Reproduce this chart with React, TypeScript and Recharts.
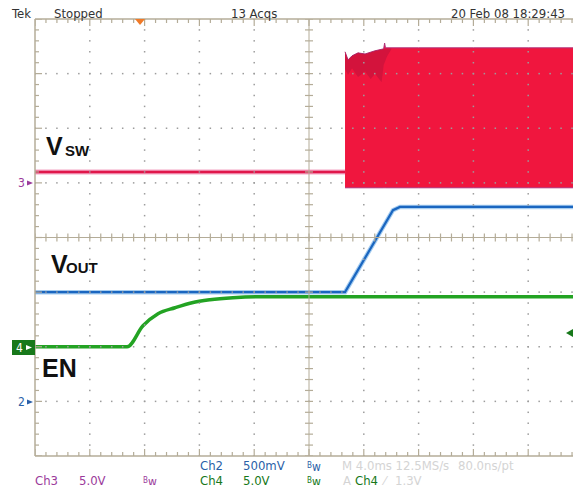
import React from "react";
import { ComposedChart, Line, Area, Scatter, XAxis, YAxis, ReferenceLine } from "recharts";

// scope channel settings (volts per division, ground position in divisions)
const CH3 = { vdiv: 5, pos: 1.0 };
const CH2 = { vdiv: 0.5, pos: -3.0 };
const CH4 = { vdiv: 5, pos: -2.0 };

// Ch3 - VSW (time in ms, volts)
const vswIdleTime = [-20, 2.63];
const vswIdleVolts = [1.0, 1.0];
const vswBandTime = [2.63, 2.85, 3.14, 3.58, 4.09, 4.82, 5.45, 5.52, 5.58, 8, 12, 16, 20];
const vswBandHigh = [12.0, 11.26, 11.63, 11.9, 11.8, 12.09, 12.27, 12.8, 12.36, 12.36, 12.36, 12.36, 12.36];
const vswBandLow = [-0.45, -0.45, -0.45, -0.45, -0.45, -0.45, -0.45, -0.45, -0.45, -0.45, -0.45, -0.45, -0.45];
const vswDarkTime = [2.63, 2.85, 3.14, 3.58, 4.09, 4.5, 4.82, 5.3, 5.45, 5.7, 6.0];
const vswDarkHigh = [12.0, 11.26, 11.63, 11.9, 11.8, 11.95, 12.09, 12.2, 12.27, 12.3, 12.3];
const vswDarkLow = [10.4, 9.9, 10.5, 9.7, 10.2, 9.5, 10.0, 9.2, 10.8, 11.6, 12.2];

// Ch2 - VOUT
const voutTime = [-20, 2.63, 6.13, 6.64, 20];
const voutVolts = [1.0, 1.0, 1.75, 1.78, 1.78];

// Ch4 - EN
const enTime = [-20, -13.28, -12.12, -11.02, -9.78, -8.54, -7.23, -5.55, -3.58, 20];
const enVolts = [0, 0, 1.92, 3.02, 3.57, 4.03, 4.3, 4.49, 4.58, 4.58];

const toDiv = (v: number, ch: { vdiv: number; pos: number }) => v / ch.vdiv + ch.pos;

const vswIdle = vswIdleTime.map((t, i) => ({ t, y: toDiv(vswIdleVolts[i], CH3) }));
const vswBand = vswBandTime.map((t, i) => ({
  t,
  lo: toDiv(vswBandLow[i], CH3),
  hi: toDiv(vswBandHigh[i], CH3),
}));
const vswDark = vswDarkTime.map((t, i) => ({
  t,
  lo: toDiv(vswDarkLow[i], CH3),
  hi: toDiv(vswDarkHigh[i], CH3),
}));
const vout = voutTime.map((t, i) => ({ t, y: toDiv(voutVolts[i], CH2) }));
const en = enTime.map((t, i) => ({ t, y: toDiv(enVolts[i], CH4) }));

// graticule: 10 x 8 divisions, 5 minor steps per division
const majorX = [-16, -12, -8, -4, 4, 8, 12, 16];
const majorY = [-3, -2, -1, 1, 2, 3];
const stepsX = Array.from({ length: 51 }, (_, i) => -20 + i * 0.8);
const stepsY = Array.from({ length: 41 }, (_, i) => -4 + i * 0.2);
const onMajor = (v: number, step: number) => Math.abs(v / step - Math.round(v / step)) < 1e-6;

const gridDots = [
  ...majorX.flatMap((t) => stepsY.map((y) => ({ t, y }))),
  ...majorY.flatMap((y) => stepsX.map((t) => ({ t, y }))),
];
const topMinor = stepsX.filter((t) => !onMajor(t, 4)).map((t) => ({ t, y: 4 }));
const topMajor = stepsX.filter((t) => onMajor(t, 4)).map((t) => ({ t, y: 4 }));
const botMinor = topMinor.map((d) => ({ t: d.t, y: -4 }));
const botMajor = topMajor.map((d) => ({ t: d.t, y: -4 }));
const leftMinor = stepsY.filter((y) => !onMajor(y, 1)).map((y) => ({ t: -20, y }));
const leftMajor = stepsY.filter((y) => onMajor(y, 1)).map((y) => ({ t: -20, y }));
const midXTicks = stepsX.map((t) => ({ t, y: 0 }));
const midYTicks = stepsY.map((y) => ({ t: 0, y }));

const GRID = "#9c9c9c";
const FRAME = "#b4ac98";
const NARROW = "'Liberation Sans Narrow', 'DejaVu Sans Condensed', 'Arial Narrow', sans-serif";
const LABEL = "'Liberation Sans', Arial, sans-serif";

const dot = (p: any) => <rect x={p.cx - 0.75} y={p.cy - 0.75} width={1.5} height={1.5} fill={GRID} />;
const tickDown = (len: number) => (p: any) => <line x1={p.cx} y1={p.cy} x2={p.cx} y2={p.cy + len} stroke={FRAME} strokeWidth={1.2} />;
const tickRight = (len: number) => (p: any) => <line x1={p.cx} y1={p.cy} x2={p.cx + len} y2={p.cy} stroke={FRAME} strokeWidth={1.2} />;
const tickCrossV = (p: any) => <line x1={p.cx} y1={p.cy - 4} x2={p.cx} y2={p.cy + 4} stroke={FRAME} strokeWidth={1.2} />;
const tickCrossH = (p: any) => <line x1={p.cx - 4} y1={p.cy} x2={p.cx + 4} y2={p.cy} stroke={FRAME} strokeWidth={1.2} />;

function Bw({ x, y, color }: { x: number; y: number; color: string }) {
  return (
    <text x={x} y={y} fill={color} fontFamily={NARROW}>
      <tspan fontSize={8} dy={-3}>B</tspan>
      <tspan fontSize={12} dy={3}>w</tspan>
    </text>
  );
}

export default function App() {
  return (
    <div style={{ position: "relative", width: 581, height: 493, margin: -8, overflow: "hidden", background: "#fff" }}>
      <ComposedChart width={600} height={493} margin={{ top: 19, right: 17, bottom: 37, left: 35 }}>
        <XAxis type="number" dataKey="t" domain={[-20, 20]} allowDataOverflow hide />
        <YAxis type="number" dataKey="y" domain={[-4, 4]} allowDataOverflow hide />

        {/* Ch3 VSW */}
        <Area
          data={vswBand}
          dataKey={(d: { lo: number; hi: number }) => [d.lo, d.hi]}
          type="linear"
          fill="#f0163e"
          fillOpacity={1}
          stroke="#b0307a"
          strokeWidth={1}
          isAnimationActive={false}
          dot={false}
          activeDot={false}
        />
        <Area
          data={vswDark}
          dataKey={(d: { lo: number; hi: number }) => [d.lo, d.hi]}
          type="linear"
          fill="#b0103a"
          fillOpacity={0.45}
          stroke="none"
          isAnimationActive={false}
          dot={false}
          activeDot={false}
        />
        <Line data={vswIdle} dataKey="y" type="linear" stroke="#f4a6c4" strokeWidth={5} dot={false} activeDot={false} isAnimationActive={false} />
        <Line data={vswIdle} dataKey="y" type="linear" stroke="#e0174a" strokeWidth={2.5} dot={false} activeDot={false} isAnimationActive={false} />

        {/* Ch2 VOUT */}
        <Line data={vout} dataKey="y" type="linear" stroke="#a6cdf0" strokeWidth={4.5} dot={false} activeDot={false} isAnimationActive={false} />
        <Line data={vout} dataKey="y" type="linear" stroke="#1a66c0" strokeWidth={2.2} dot={false} activeDot={false} isAnimationActive={false} />

        {/* Ch4 EN */}
        <Line data={en} dataKey="y" type="monotone" stroke="#23a323" strokeWidth={3.5} dot={false} activeDot={false} isAnimationActive={false} />

        {/* graticule */}
        <ReferenceLine x={-20} stroke={FRAME} strokeWidth={1.5} />
        <ReferenceLine y={4} stroke={FRAME} strokeWidth={1.5} />
        <ReferenceLine y={-4} stroke={FRAME} strokeWidth={1.5} />
        <ReferenceLine x={0} stroke={FRAME} strokeWidth={1} />
        <ReferenceLine y={0} stroke={FRAME} strokeWidth={1} />
        <Scatter data={gridDots} dataKey="y" shape={dot} isAnimationActive={false} />
        <Scatter data={topMinor} dataKey="y" shape={tickDown(4)} isAnimationActive={false} />
        <Scatter data={topMajor} dataKey="y" shape={tickDown(7)} isAnimationActive={false} />
        <Scatter data={botMinor} dataKey="y" shape={tickDown(-4)} isAnimationActive={false} />
        <Scatter data={botMajor} dataKey="y" shape={tickDown(-7)} isAnimationActive={false} />
        <Scatter data={leftMinor} dataKey="y" shape={tickRight(4)} isAnimationActive={false} />
        <Scatter data={leftMajor} dataKey="y" shape={tickRight(7)} isAnimationActive={false} />
        <Scatter data={midXTicks} dataKey="y" shape={tickCrossV} isAnimationActive={false} />
        <Scatter data={midYTicks} dataKey="y" shape={tickCrossH} isAnimationActive={false} />
      </ComposedChart>

      <svg width={581} height={493} style={{ position: "absolute", left: 0, top: 0, pointerEvents: "none" }}>
        {/* header */}
        <g fontFamily={NARROW} fontSize={13} fill="#333">
          <text x={12} y={18}>Tek</text>
          <text x={54} y={18}>Stopped</text>
          <text x={231} y={18}>13 Acqs</text>
          <text x={451} y={18}>20 Feb 08 18:29:43</text>
        </g>
        <polygon points="135,19 145,19 140,25" fill="#f07a28" />

        {/* trace labels */}
        <g fontFamily={LABEL} fill="#111" fontWeight={700}>
          <text x={46} y={155} fontSize={25}>V</text>
          <text x={65} y={156} fontSize={15}>SW</text>
          <text x={51} y={273} fontSize={25}>V</text>
          <text x={66} y={273} fontSize={15}>OUT</text>
          <text x={42} y={377} fontSize={25}>EN</text>
        </g>

        {/* channel ground markers */}
        <text x={18} y={187} fontFamily={NARROW} fontSize={12} fill="#9b3a9b">3</text>
        <polygon points="27,180.5 33,183 27,185.5" fill="#9b3a9b" />
        <rect x={12} y={340} width={23} height={15} fill="#17781a" />
        <text x={16} y={352} fontFamily={NARROW} fontSize={12} fill="#fff">4</text>
        <polygon points="26,345 32,347.5 26,350" fill="#fff" />
        <text x={18} y={406} fontFamily={NARROW} fontSize={12} fill="#2a5fa8">2</text>
        <polygon points="27,399.5 33,402 27,404.5" fill="#2a5fa8" />

        {/* trigger level */}
        <polygon points="566,333 573,329 573,337" fill="#17781a" />
        <line x1={572} y1={333} x2={581} y2={333} stroke="#17781a" strokeWidth={2} />

        {/* footer */}
        <g fontFamily={NARROW} fontSize={13}>
          <text x={35} y={485} fill="#9b3a9b">Ch3</text>
          <text x={79} y={485} fill="#9b3a9b">5.0V</text>
          <text x={200} y={470} fill="#2a5fa8">Ch2</text>
          <text x={243} y={470} fill="#2a5fa8">500mV</text>
          <text x={200} y={485} fill="#17781a">Ch4</text>
          <text x={243} y={485} fill="#17781a">5.0V</text>
          <text x={342} y={470} fill="#d4d4d4">M 4.0ms 12.5MS/s</text>
          <text x={458} y={470} fill="#d4d4d4">80.0ns/pt</text>
          <text x={343} y={485} fill="#d4d4d4">A</text>
          <text x={355} y={485} fill="#17781a">Ch4</text>
          <text x={384} y={485} fill="#d4d4d4">⁄</text>
          <text x={395} y={485} fill="#d4d4d4">1.3V</text>
        </g>
        <Bw x={143} y={486} color="#9b3a9b" />
        <Bw x={307} y={471} color="#2a5fa8" />
        <Bw x={307} y={486} color="#17781a" />
      </svg>
    </div>
  );
}
